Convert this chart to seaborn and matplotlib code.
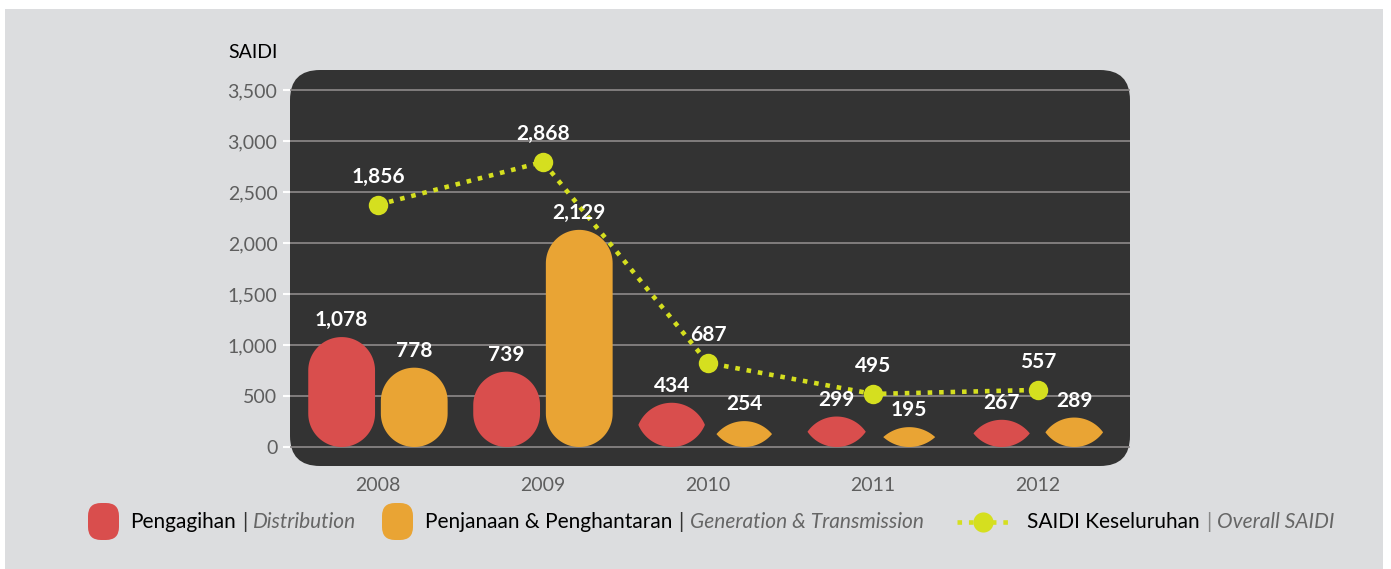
import numpy as np
import pandas as pd
import matplotlib
matplotlib.use("Agg")
import matplotlib.pyplot as plt
import matplotlib.transforms as mtransforms
from matplotlib.patches import FancyBboxPatch, PathPatch, Rectangle
from matplotlib.path import Path
from matplotlib.lines import Line2D
import seaborn as sns

# %%
# data
years = ["2008", "2009", "2010", "2011", "2012"]
distribution = [1078, 739, 434, 299, 267]
generation = [778, 2129, 254, 195, 289]
overall_labels = [1856, 2868, 687, 495, 557]
# the markers in the source are not drawn at the labelled values
overall_drawn = [2375, 2795, 825, 520, 560]
y_ticks = [0, 500, 1000, 1500, 2000, 2500, 3000, 3500]

RED = "#d94e4d"
ORANGE = "#e9a434"
LIME = "#d5df1f"
DARK = "#333333"
PANEL = "#dcdddf"
GREY = "#5e5e5e"

# %%
sns.set_theme(style="white")
plt.rcParams["font.family"] = ["Lato", "DejaVu Sans"]

W, H = 1391, 569
fig = plt.figure(figsize=(W / 100, H / 100), dpi=100, facecolor="white")
pix = mtransforms.Affine2D().scale(1 / W, 1 / H) + fig.transFigure  # pixel coords, origin bottom-left

fig.add_artist(Rectangle((5, 0), 1378, 560, transform=pix, facecolor=PANEL,
                         edgecolor="none", zorder=-10))

ax = fig.add_axes([290 / W, 103 / H, 840 / W, 396 / H])
ax.patch.set_visible(False)

df = pd.DataFrame({
    "year": years * 2,
    "series": ["dist"] * 5 + ["gen"] * 5,
    "value": distribution + generation,
})
sns.barplot(data=df, x="year", y="value", hue="series", palette=[RED, ORANGE],
            width=0.88, gap=0.08, saturation=1, legend=False, ax=ax, zorder=2)

sns.pointplot(x=years, y=overall_drawn, color=LIME, markers="o", ax=ax,
              markersize=14, linewidth=3.3, markeredgewidth=0, zorder=4)
for ln in ax.lines:
    if len(ln.get_xdata()) == len(years):
        ln.set_linestyle((0, (1, 1.5)))
        ln.set_dash_capstyle("butt")

ax.set_xlim(-0.533, 4.558)
ax.set_ylim(-186, 3696)
ax.set_xlabel("")
ax.set_ylabel("")
for s in ax.spines.values():
    s.set_visible(False)

# rounded dark panel behind the plot
ax.add_patch(FancyBboxPatch((0, 0), 1, 1, boxstyle="round,pad=0,rounding_size=0.0357",
                            mutation_aspect=840 / 396, transform=ax.transAxes,
                            facecolor=DARK, edgecolor="none", zorder=-1, clip_on=False))

ax.set_yticks(y_ticks)
ax.set_yticklabels([f"{t:,}" for t in y_ticks])
ax.yaxis.grid(True, color="#8e8a8a", linewidth=1.2)
ax.xaxis.grid(False)
ax.set_axisbelow(True)
ax.tick_params(axis="y", length=5, width=1.5, color="white", labelcolor=GREY,
               labelsize=14, pad=4, left=True)
ax.tick_params(axis="x", length=0, labelcolor=GREY, labelsize=14, pad=8)


# %%
# turn the flat bars into pills / lenses
def bar_shape(bar):
    x0, w, h = bar.get_x(), bar.get_width(), bar.get_height()
    (L, B), (R, T) = ax.transData.transform([(x0, 0), (x0 + w, h)])
    cx, wpx, hpx = (L + R) / 2, R - L, T - B
    if hpx >= wpx:
        r = wpx / 2
        t1 = np.linspace(np.pi, 0, 50)
        t2 = np.linspace(0, -np.pi, 50)
        top = np.column_stack([cx + r * np.cos(t1), T - r + r * np.sin(t1)])
        bot = np.column_stack([cx + r * np.cos(t2), B + r + r * np.sin(t2)])
    else:
        a = min(wpx, 40 + 0.6 * hpx) / 2
        s = hpx / 2
        rc = (a * a + s * s) / (2 * s)
        phi = np.arcsin(min(a / rc, 1))
        t1 = np.linspace(np.pi / 2 + phi, np.pi / 2 - phi, 50)
        t2 = np.linspace(-np.pi / 2 + phi, -np.pi / 2 - phi, 50)
        top = np.column_stack([cx + rc * np.cos(t1), T - rc + rc * np.sin(t1)])
        bot = np.column_stack([cx + rc * np.cos(t2), B + rc + rc * np.sin(t2)])
    pts = ax.transData.inverted().transform(np.vstack([top, bot]))
    return Path(np.vstack([pts, pts[:1]]), closed=True)


for cont in ax.containers:
    for bar in cont:
        ax.add_patch(PathPatch(bar_shape(bar), facecolor=bar.get_facecolor(),
                               edgecolor="none", zorder=2))
        ax.annotate(f"{int(round(bar.get_height())):,}",
                    (bar.get_x() + bar.get_width() / 2, bar.get_height()),
                    xytext=(0, 12), textcoords="offset points", ha="center", va="center",
                    color="white", fontsize=15, fontweight="bold", zorder=6)
        bar.set_visible(False)

for i, (v, lab) in enumerate(zip(overall_drawn, overall_labels)):
    ax.annotate(f"{lab:,}", (i, v), xytext=(0, 20), textcoords="offset points",
                ha="center", va="center", color="white", fontsize=15,
                fontweight="bold", zorder=6)

fig.text(228 / W, 1 - 52 / H, "SAIDI", ha="left", va="center", fontsize=14, color="black")

# %%
# legend, built by hand
ly = H - 522
for x0, col in [(88, RED), (382, ORANGE)]:
    fig.add_artist(FancyBboxPatch((x0, ly - 18), 31, 37, boxstyle="round,pad=0,rounding_size=13",
                                  transform=pix, facecolor=col, edgecolor="none"))
leg_line = Line2D([957, 1011], [ly, ly], transform=pix, color=LIME, lw=3.3,
                  ls=(0, (1, 1.5)), dash_capstyle="butt")
fig.add_artist(leg_line)
fig.add_artist(Line2D([983], [ly], transform=pix, marker="o", ms=14.5, mew=0, color=LIME, ls="none"))

renderer = fig.canvas.get_renderer()
entries = [
    (130, "Pengagihan", "#333333", "Distribution"),
    (425, "Penjanaan & Penghantaran", "#333333", "Generation & Transmission"),
    (1027, "SAIDI Keseluruhan", "#888888", "Overall SAIDI"),
]
for x0, main, bar_col, italic in entries:
    x = x0
    for txt, col, style, gap in [(main, "black", "normal", 6), ("|", bar_col, "normal", 6),
                                 (italic, "#666666", "italic", 0)]:
        t = fig.text(x / W, ly / H, txt, ha="left", va="center", fontsize=15,
                     color=col, style=style)
        x = t.get_window_extent(renderer).x1 + gap

fig.savefig("out.png", dpi=100, facecolor="white")
